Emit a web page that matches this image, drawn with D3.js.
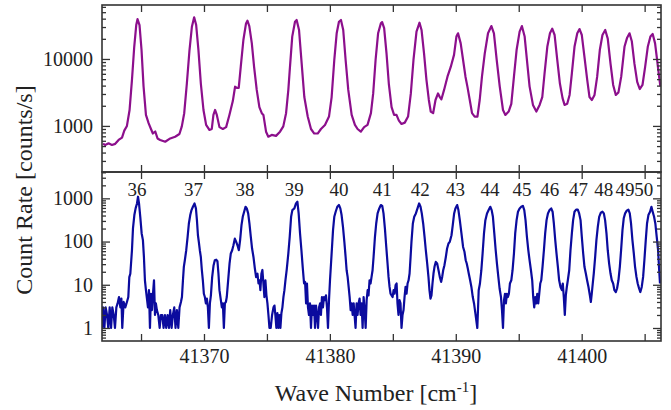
<!DOCTYPE html>
<html>
<head>
<meta charset="utf-8">
<script src="https://cdn.jsdelivr.net/npm/d3@7"></script>
<style>
  body { margin: 0; background: #fff; }
  svg text { font-family: "Liberation Serif", "Times New Roman", serif; fill: #222; }
  .axis path { display: none; }
  .axis line { stroke: #333; stroke-width: 1.3; }
  .axis text { font-size: 20px; }
  .frame { fill: none; stroke: #333; stroke-width: 1.6; }
  .trace { fill: none; stroke-linejoin: round; }
</style>
</head>
<body>
<svg id="chart"></svg>
<script>
const X_DOMAIN = [41361.9, 41406.3];
const UPPER_DOMAIN = [205, 64000];
const LOWER_DOMAIN = [0.5, 4070];

const xTicks = [41365, 41370, 41375, 41380, 41385, 41390, 41395, 41400, 41405];
const upperYTicks = [1000, 10000];
const lowerYTicks = [1, 10, 100, 1000];

// rotational line numbers and where they sit on the wave number axis
const peakLabels = ['36', '37', '38', '39', '40', '41', '42', '43', '44', '45', '46', '47', '48', '49', '50'];
const peakPositions = [41364.68, 41369.16, 41373.26, 41377.17, 41380.72, 41384.15, 41387.17, 41389.97,
  41392.72, 41395.25, 41397.47, 41399.75, 41401.76, 41403.45, 41404.93];

const upperTrace = [
  [41361.98, 540], [41362.16, 520], [41362.42, 550], [41362.69, 520], [41362.95, 540], [41363.22, 618],
  [41363.49, 670], [41363.67, 850], [41363.88, 1000], [41364.09, 1730], [41364.28, 4860], [41364.46, 15200],
  [41364.62, 32100], [41364.72, 39400], [41364.88, 32100], [41365.04, 13600], [41365.20, 3900], [41365.39, 1460],
  [41365.60, 1100], [41365.79, 900], [41365.94, 770], [41366.13, 825], [41366.31, 650], [41366.52, 618],
  [41366.92, 580], [41367.32, 650], [41367.71, 690], [41368.05, 757], [41368.24, 985], [41368.43, 1550],
  [41368.64, 4300], [41368.85, 13600], [41369.04, 30300], [41369.22, 42000], [41369.38, 32100], [41369.56, 13600],
  [41369.75, 4300], [41369.96, 1730], [41370.17, 1035], [41370.43, 870], [41370.62, 900], [41370.75, 1460],
  [41370.88, 1730], [41371.02, 1460], [41371.23, 960], [41371.50, 900], [41371.76, 960], [41372.02, 1460],
  [41372.29, 2350], [41372.47, 3850], [41372.61, 3700], [41372.76, 3700], [41372.92, 7600], [41373.13, 19200],
  [41373.34, 34000], [41373.45, 37300], [41373.60, 31000], [41373.80, 17100], [41373.98, 7600], [41374.19, 3450],
  [41374.40, 1910], [41374.59, 1550], [41374.72, 1460], [41374.93, 820], [41375.11, 690], [41375.38, 734],
  [41375.72, 710], [41376.04, 820], [41376.30, 985], [41376.52, 1550], [41376.70, 3450], [41376.83, 7600],
  [41377.01, 21600], [41377.23, 36000], [41377.36, 38200], [41377.55, 27100], [41377.76, 8520], [41377.97, 2700],
  [41378.24, 1380], [41378.50, 900], [41378.76, 770], [41379.03, 770], [41379.29, 900], [41379.61, 1035],
  [41379.93, 1380], [41380.14, 2700], [41380.35, 9660], [41380.54, 24200], [41380.72, 36000], [41380.88, 38200],
  [41381.06, 27100], [41381.25, 9660], [41381.46, 3450], [41381.73, 1460], [41381.99, 1035], [41382.20, 900],
  [41382.46, 820], [41382.72, 960], [41382.99, 1035], [41383.26, 1550], [41383.44, 3060], [41383.63, 9660],
  [41383.83, 24200], [41384.05, 34000], [41384.15, 35500], [41384.31, 28800], [41384.50, 12000], [41384.68, 4300],
  [41384.90, 1910], [41385.10, 1460], [41385.29, 1460], [41385.48, 1200], [41385.69, 1070], [41385.95, 1120],
  [41386.21, 1380], [41386.43, 3060], [41386.64, 9660], [41386.88, 25600], [41387.12, 34800], [41387.28, 27100],
  [41387.48, 12000], [41387.67, 4860], [41387.86, 2440], [41388.01, 1640], [41388.20, 1550], [41388.39, 2440],
  [41388.59, 3060], [41388.73, 2700], [41388.86, 2500], [41389.07, 3450], [41389.34, 5440], [41389.60, 7600],
  [41389.86, 11500], [41390.05, 21600], [41390.18, 24200], [41390.39, 17100], [41390.58, 9660], [41390.77, 5440],
  [41390.92, 3900], [41391.11, 2440], [41391.29, 1550], [41391.50, 1380], [41391.72, 1380], [41391.90, 2440],
  [41392.08, 5440], [41392.30, 12000], [41392.56, 24200], [41392.83, 31000], [41393.03, 24200], [41393.25, 9660],
  [41393.49, 3900], [41393.75, 1730], [41393.94, 1460], [41394.20, 1640], [41394.41, 2140], [41394.62, 5440],
  [41394.83, 13600], [41395.07, 25600], [41395.25, 31000], [41395.47, 21600], [41395.68, 8520], [41395.86, 3900],
  [41396.13, 2060], [41396.40, 1640], [41396.66, 2060], [41396.87, 2700], [41397.05, 6070], [41397.27, 15200],
  [41397.48, 24200], [41397.66, 28400], [41397.85, 22800], [41398.06, 9660], [41398.27, 4300], [41398.48, 2600],
  [41398.64, 2060], [41398.85, 2140], [41399.04, 2900], [41399.22, 6070], [41399.43, 15200], [41399.65, 24200],
  [41399.83, 28000], [41400.01, 22800], [41400.23, 10400], [41400.44, 4860], [41400.62, 2700], [41400.81, 2440],
  [41401.02, 2900], [41401.23, 5440], [41401.44, 13600], [41401.65, 22800], [41401.87, 27100], [41402.07, 20100],
  [41402.29, 8520], [41402.50, 4090], [41402.71, 2900], [41402.92, 3170], [41403.14, 5440], [41403.40, 15200],
  [41403.61, 20800], [41403.80, 24200], [41403.98, 18400], [41404.19, 8520], [41404.41, 4550], [41404.61, 3560],
  [41404.83, 4090], [41405.04, 7600], [41405.25, 15200], [41405.46, 21600], [41405.64, 23600], [41405.83, 17100],
  [41405.99, 9660], [41406.15, 5440], [41406.25, 3900]
];

const lowerTrace = [
  [41361.90, 1], [41361.98, 3], [41362.09, 1], [41362.19, 3], [41362.30, 2], [41362.40, 1], [41362.51, 3],
  [41362.62, 1], [41362.72, 3], [41362.83, 2], [41362.93, 1], [41363.04, 3], [41363.14, 3.7], [41363.25, 5.2],
  [41363.36, 3], [41363.44, 4.8], [41363.51, 1], [41363.62, 4], [41363.75, 3], [41363.88, 4], [41363.99, 5.2],
  [41364.07, 15], [41364.15, 18], [41364.28, 63], [41364.36, 201], [41364.47, 410], [41364.57, 585],
  [41364.68, 763], [41364.76, 1090], [41364.84, 763], [41364.94, 374], [41365.05, 154], [41365.15, 108],
  [41365.23, 44], [41365.31, 12.7], [41365.39, 7.5], [41365.47, 4.8], [41365.55, 3], [41365.63, 7.5],
  [41365.71, 1], [41365.79, 6.2], [41365.87, 2.6], [41365.95, 6.2], [41366.03, 12.7], [41366.11, 2],
  [41366.18, 3.7], [41366.26, 2.6], [41366.37, 2], [41366.48, 1], [41366.58, 2], [41366.69, 2], [41366.79, 1],
  [41366.90, 2], [41367.00, 1], [41367.11, 2], [41367.22, 1], [41367.32, 2.6], [41367.43, 1], [41367.53, 2],
  [41367.64, 3], [41367.74, 1], [41367.85, 2.6], [41367.96, 1], [41368.06, 3], [41368.17, 4], [41368.25, 5.2],
  [41368.33, 12.7], [41368.40, 26], [41368.48, 37], [41368.59, 63], [41368.70, 129], [41368.80, 262],
  [41368.91, 410], [41369.01, 535], [41369.12, 638], [41369.25, 763], [41369.36, 585], [41369.44, 313],
  [41369.52, 140], [41369.59, 98], [41369.67, 63], [41369.75, 44], [41369.83, 22], [41369.91, 12.7],
  [41369.99, 6.2], [41370.07, 5.2], [41370.15, 3.7], [41370.23, 4.8], [41370.31, 3], [41370.39, 1],
  [41370.47, 3.7], [41370.55, 5.7], [41370.65, 15], [41370.76, 28], [41370.86, 37], [41370.97, 38],
  [41371.07, 35], [41371.15, 18], [41371.23, 7.5], [41371.34, 4.4], [41371.42, 3], [41371.50, 3.7],
  [41371.58, 1], [41371.66, 3.7], [41371.74, 4], [41371.81, 5.2], [41371.92, 12.7], [41372.03, 31],
  [41372.13, 53], [41372.24, 63], [41372.34, 82], [41372.45, 117], [41372.56, 98], [41372.66, 82],
  [41372.77, 63], [41372.87, 108], [41372.98, 240], [41373.08, 374], [41373.19, 490], [41373.30, 638],
  [41373.40, 585], [41373.51, 448], [41373.61, 262], [41373.72, 129], [41373.82, 69], [41373.93, 44],
  [41374.04, 24], [41374.14, 15], [41374.25, 18], [41374.33, 10.7], [41374.41, 12.7], [41374.48, 7.5],
  [41374.56, 18], [41374.64, 22], [41374.72, 10.7], [41374.80, 5.2], [41374.88, 12.7], [41374.96, 5.7],
  [41375.04, 3.7], [41375.12, 2], [41375.20, 1], [41375.30, 1], [41375.41, 2], [41375.52, 3], [41375.60, 3.3],
  [41375.67, 2], [41375.75, 1], [41375.83, 2.2], [41375.91, 1], [41375.99, 2], [41376.07, 1], [41376.15, 2.2],
  [41376.23, 3], [41376.31, 5.2], [41376.39, 7.5], [41376.47, 12.7], [41376.57, 22], [41376.70, 53],
  [41376.81, 129], [41376.92, 374], [41377.02, 535], [41377.18, 585], [41377.31, 763], [41377.42, 835],
  [41377.52, 448], [41377.63, 154], [41377.74, 63], [41377.84, 26], [41377.95, 10.7], [41378.03, 11.7],
  [41378.11, 3.7], [41378.18, 10.7], [41378.26, 3], [41378.34, 2], [41378.42, 3.7], [41378.50, 1],
  [41378.58, 3.3], [41378.66, 2], [41378.74, 3.3], [41378.82, 1], [41378.90, 3.3], [41378.98, 2],
  [41379.06, 1], [41379.14, 3], [41379.22, 3.7], [41379.29, 2], [41379.37, 5.2], [41379.45, 3],
  [41379.53, 5.2], [41379.61, 4.4], [41379.69, 5.7], [41379.77, 3], [41379.85, 1], [41379.93, 4.4],
  [41380.01, 12.7], [41380.09, 31], [41380.17, 75], [41380.25, 184], [41380.35, 374], [41380.46, 490],
  [41380.59, 638], [41380.72, 700], [41380.83, 585], [41380.93, 410], [41381.04, 220], [41381.15, 98],
  [41381.25, 44], [41381.33, 21.7], [41381.41, 15.2], [41381.49, 8.9], [41381.57, 5.2], [41381.65, 2.6],
  [41381.73, 3.7], [41381.81, 2], [41381.89, 3.7], [41381.96, 2], [41382.04, 1], [41382.12, 3.7],
  [41382.20, 2], [41382.28, 3.7], [41382.36, 4.8], [41382.44, 2], [41382.52, 3.7], [41382.60, 1],
  [41382.68, 5.2], [41382.76, 2.6], [41382.84, 1], [41382.92, 4.4], [41383.00, 7.5], [41383.07, 5.7],
  [41383.15, 12.7], [41383.23, 10.7], [41383.31, 15.2], [41383.39, 21.7], [41383.47, 44], [41383.58, 129],
  [41383.68, 262], [41383.79, 448], [41383.92, 585], [41384.05, 700], [41384.16, 670], [41384.26, 448],
  [41384.37, 201], [41384.48, 75], [41384.58, 31], [41384.66, 15.2], [41384.74, 8.9], [41384.82, 6.2],
  [41384.90, 5.7], [41384.98, 5.2], [41385.06, 7.5], [41385.14, 6.2], [41385.22, 9.8], [41385.30, 10.7],
  [41385.37, 3.7], [41385.45, 2], [41385.53, 4.4], [41385.61, 3.7], [41385.69, 1], [41385.77, 2],
  [41385.85, 2.6], [41385.93, 5.2], [41386.01, 8.9], [41386.09, 6.2], [41386.17, 10.7], [41386.25, 12.7],
  [41386.33, 18.2], [41386.41, 44], [41386.48, 98], [41386.59, 262], [41386.70, 374], [41386.83, 448],
  [41386.96, 585], [41387.09, 763], [41387.20, 638], [41387.30, 448], [41387.41, 262], [41387.52, 129],
  [41387.62, 63], [41387.73, 31], [41387.83, 15.2], [41387.91, 7.5], [41387.99, 4.8], [41388.07, 5.7],
  [41388.15, 10.7], [41388.23, 18.2], [41388.31, 26], [41388.41, 33.8], [41388.52, 31], [41388.63, 21.7],
  [41388.73, 15.2], [41388.84, 11.7], [41388.92, 15.2], [41389.00, 21.7], [41389.10, 28.4], [41389.21, 44],
  [41389.31, 69], [41389.42, 90], [41389.52, 98], [41389.66, 140], [41389.76, 240], [41389.87, 448],
  [41389.97, 585], [41390.11, 700], [41390.21, 535], [41390.32, 313], [41390.45, 154], [41390.58, 75],
  [41390.69, 58], [41390.79, 37], [41390.87, 31], [41390.95, 24], [41391.03, 18.2], [41391.14, 12.7],
  [41391.24, 8.9], [41391.35, 5.2], [41391.45, 3.7], [41391.56, 2.15], [41391.71, 1], [41391.82, 7.5],
  [41391.92, 10.7], [41392.03, 21.7], [41392.13, 53], [41392.24, 154], [41392.35, 313], [41392.48, 448],
  [41392.61, 535], [41392.74, 638], [41392.85, 535], [41392.95, 374], [41393.06, 154], [41393.17, 63],
  [41393.27, 31], [41393.38, 15.2], [41393.48, 8.2], [41393.59, 5.2], [41393.67, 2.6], [41393.75, 1],
  [41393.83, 4.4], [41393.91, 6.2], [41393.98, 3.7], [41394.06, 6.2], [41394.14, 5.2], [41394.22, 6.2],
  [41394.30, 10.7], [41394.41, 12.7], [41394.51, 21.7], [41394.62, 53], [41394.72, 154], [41394.83, 313],
  [41394.94, 490], [41395.07, 585], [41395.20, 638], [41395.33, 670], [41395.44, 535], [41395.54, 313],
  [41395.65, 129], [41395.76, 63], [41395.86, 37], [41395.97, 21.7], [41396.07, 12.7], [41396.15, 5.2],
  [41396.23, 3], [41396.31, 5.2], [41396.39, 3.7], [41396.47, 6.2], [41396.55, 3.7], [41396.63, 6.2],
  [41396.71, 10.7], [41396.79, 12.7], [41396.89, 26], [41397.00, 63], [41397.10, 154], [41397.21, 313],
  [41397.32, 448], [41397.45, 535], [41397.58, 585], [41397.69, 490], [41397.79, 262], [41397.90, 108],
  [41398.00, 53], [41398.11, 26], [41398.21, 12.7], [41398.32, 8.9], [41398.43, 7.5], [41398.50, 10.7],
  [41398.58, 5.2], [41398.66, 2], [41398.74, 5.7], [41398.82, 8.9], [41398.90, 12.7], [41399.01, 21.7],
  [41399.11, 63], [41399.22, 154], [41399.32, 313], [41399.43, 490], [41399.56, 550], [41399.69, 550],
  [41399.80, 448], [41399.91, 313], [41400.01, 129], [41400.12, 53], [41400.22, 26], [41400.33, 18.2],
  [41400.43, 12.7], [41400.54, 8.9], [41400.65, 5.7], [41400.73, 4], [41400.80, 6.2], [41400.88, 10.7],
  [41400.96, 18.2], [41401.07, 44], [41401.17, 108], [41401.28, 218], [41401.39, 374], [41401.52, 465],
  [41401.65, 490], [41401.76, 448], [41401.86, 313], [41401.97, 154], [41402.07, 63], [41402.18, 31],
  [41402.29, 18.2], [41402.39, 12.7], [41402.50, 10.7], [41402.60, 7.5], [41402.71, 6.8], [41402.81, 8.2],
  [41402.92, 12.7], [41403.03, 26], [41403.13, 63], [41403.24, 184], [41403.34, 345], [41403.45, 448],
  [41403.58, 520], [41403.71, 550], [41403.82, 448], [41403.92, 262], [41404.03, 108], [41404.14, 53],
  [41404.24, 26], [41404.35, 15.2], [41404.45, 10.7], [41404.56, 8.2], [41404.66, 6.8], [41404.77, 8.9],
  [41404.88, 15.2], [41404.98, 37], [41405.09, 108], [41405.19, 262], [41405.30, 410], [41405.43, 490],
  [41405.54, 638], [41405.64, 490], [41405.75, 374], [41405.85, 262], [41405.96, 129], [41406.07, 63],
  [41406.14, 26], [41406.22, 10.7]
];

const width = 671,
  height = 410;
const left = 102, right = 661;
const upperTop = 5, split = 172, lowerBottom = 341;

const svg = d3.select('#chart')
  .attr('width', width)
  .attr('height', height);

const xScale = d3.scaleLinear().domain(X_DOMAIN).range([left, right]);
const yUpper = d3.scaleLog().domain(UPPER_DOMAIN).range([split, upperTop]);
const yLower = d3.scaleLog().domain(LOWER_DOMAIN).range([lowerBottom, split]);

// 2..9 times every decade that falls inside the domain
const minorTicks = ([lo, hi]) => {
  const out = [];
  for (let e = Math.floor(Math.log10(lo)); e <= Math.ceil(Math.log10(hi)); e++) {
    for (let m = 2; m <= 9; m++) {
      const v = m * Math.pow(10, e);
      if (v > lo && v < hi) out.push(v);
    }
  }
  return out;
};

const drawPanel = (name, yScale, top, bottom, trace, majors, color) => {
  svg.append('clipPath')
    .attr('id', `clip-${name}`)
    .append('rect')
    .attr('x', left)
    .attr('y', top)
    .attr('width', right - left)
    .attr('height', bottom - top);

  const lineGen = d3.line()
    .x(d => xScale(d[0]))
    .y(d => yScale(d[1]));

  svg.append('path')
    .datum(trace)
    .attr('class', 'trace')
    .attr('clip-path', `url(#clip-${name})`)
    .attr('stroke', color)
    .attr('stroke-width', 2.2)
    .attr('d', lineGen);

  // left axis with labels, major then minor ticks pointing inward
  svg.append('g')
    .attr('class', 'axis')
    .attr('transform', `translate(${left}, 0)`)
    .call(d3.axisLeft(yScale).tickValues(majors).tickSize(-8).tickPadding(9).tickFormat(d3.format('d')));
  svg.append('g')
    .attr('class', 'axis')
    .attr('transform', `translate(${left}, 0)`)
    .call(d3.axisLeft(yScale).tickValues(minorTicks(yScale.domain())).tickSize(-4).tickFormat(''));

  // mirrored ticks on the right
  svg.append('g')
    .attr('class', 'axis')
    .attr('transform', `translate(${right}, 0)`)
    .call(d3.axisRight(yScale).tickValues(majors).tickSize(-8).tickFormat(''));
  svg.append('g')
    .attr('class', 'axis')
    .attr('transform', `translate(${right}, 0)`)
    .call(d3.axisRight(yScale).tickValues(minorTicks(yScale.domain())).tickSize(-4).tickFormat(''));

  // x ticks on the panel's top and bottom edges
  svg.append('g')
    .attr('class', 'axis')
    .attr('transform', `translate(0, ${top})`)
    .call(d3.axisTop(xScale).tickValues(xTicks).tickSize(-7).tickFormat(''));
  svg.append('g')
    .attr('class', 'axis')
    .attr('transform', `translate(0, ${bottom})`)
    .call(d3.axisBottom(xScale).tickValues(xTicks).tickSize(-7).tickPadding(8)
      .tickFormat(d => name === 'lower' && d % 10 === 0 ? d : ''));

  svg.append('rect')
    .attr('class', 'frame')
    .attr('x', left)
    .attr('y', top)
    .attr('width', right - left)
    .attr('height', bottom - top);
};

drawPanel('upper', yUpper, upperTop, split, upperTrace, upperYTicks, '#8c0f8c');
drawPanel('lower', yLower, split, lowerBottom, lowerTrace, lowerYTicks, '#0b0b9e');

// line numbers above the peaks
svg.selectAll('text.peak')
  .data(peakLabels)
  .enter()
  .append('text')
  .attr('class', 'peak')
  .attr('x', (_, i) => xScale(peakPositions[i]))
  .attr('y', 196)
  .attr('text-anchor', 'middle')
  .style('font-size', '19px')
  .text(d => d);

// axis titles
svg.append('text')
  .attr('transform', 'translate(32, 190) rotate(-90)')
  .attr('text-anchor', 'middle')
  .style('font-size', '24px')
  .text('Count Rate [counts/s]');

const xTitle = svg.append('text')
  .attr('x', 376)
  .attr('y', 401)
  .attr('text-anchor', 'middle')
  .style('font-size', '24px');
xTitle.append('tspan').text('Wave Number [cm');
xTitle.append('tspan').attr('dy', -9).style('font-size', '15px').text('-1');
xTitle.append('tspan').attr('dy', 9).text(']');
</script>
</body>
</html>
